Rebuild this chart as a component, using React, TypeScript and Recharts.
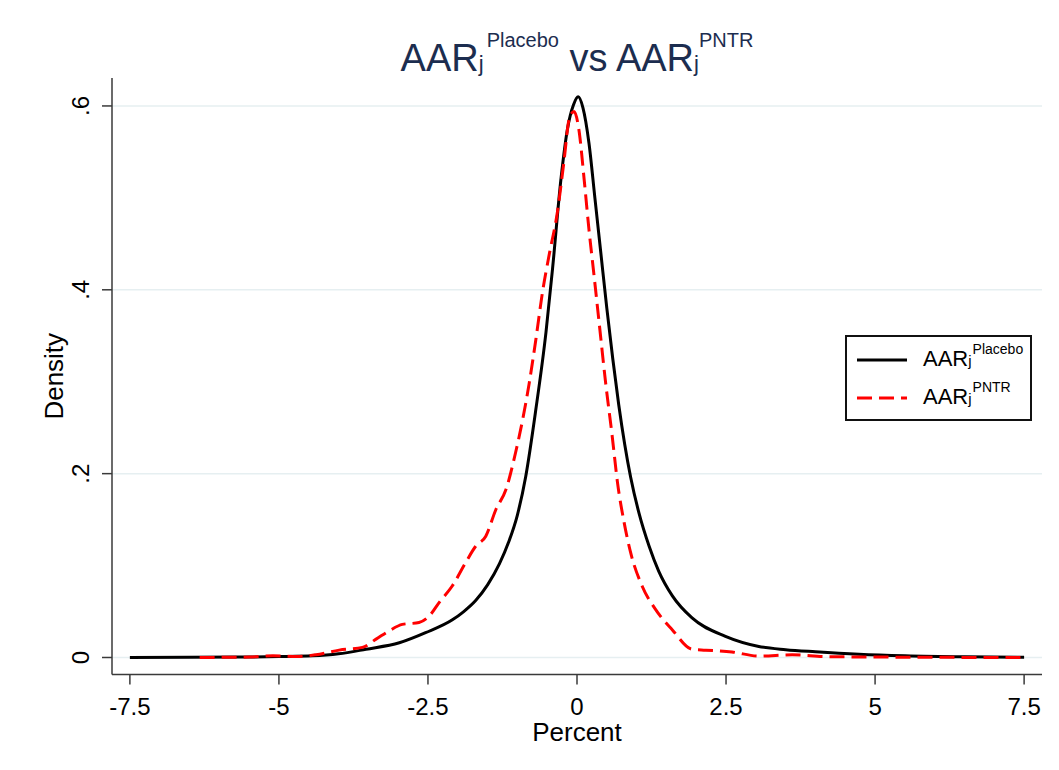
import { LineChart, Line, XAxis, YAxis, ReferenceLine, Legend } from 'recharts';

// kernel density estimates (x in percent, y = density)
const placeboX = [-7.5, -6.5, -5.5, -5.0, -4.44, -4.0, -3.54, -2.98, -2.54, -2.09, -1.9, -1.7, -1.5, -1.3, -1.15, -1.0, -0.86, -0.69, -0.52, -0.41, -0.27, -0.16, -0.06, 0.02, 0.1, 0.2, 0.3, 0.4, 0.5, 0.6, 0.7, 0.8, 0.9, 1.04, 1.21, 1.37, 1.6, 1.93, 2.49, 3.05, 3.5, 4.0, 4.73, 5.5, 6.5, 7.5];
const placeboY = [0, 0.0002, 0.0005, 0.001, 0.0018, 0.004, 0.009, 0.016, 0.027, 0.041, 0.05, 0.062, 0.079, 0.102, 0.125, 0.155, 0.197, 0.27, 0.354, 0.423, 0.52, 0.575, 0.601, 0.61, 0.598, 0.56, 0.5, 0.44, 0.38, 0.325, 0.275, 0.232, 0.196, 0.157, 0.121, 0.094, 0.067, 0.043, 0.023, 0.012, 0.0085, 0.0062, 0.0035, 0.0018, 0.0007, 0.0003];

const pntrX = [-6.33, -5.5, -5.1, -4.7, -4.38, -3.99, -3.6, -3.37, -3.15, -2.93, -2.65, -2.48, -2.31, -2.09, -1.87, -1.7, -1.53, -1.36, -1.19, -1.03, -0.92, -0.8, -0.69, -0.58, -0.47, -0.33, -0.22, -0.13, -0.05, 0.03, 0.12, 0.2, 0.28, 0.37, 0.48, 0.59, 0.68, 0.79, 0.9, 1.09, 1.32, 1.6, 1.93, 2.16, 2.6, 3.05, 3.61, 4.17, 5.0, 6.0, 7.5];
const pntrY = [0, 0.0005, 0.002, 0.001, 0.003, 0.008, 0.011, 0.02, 0.029, 0.036, 0.038, 0.045, 0.06, 0.078, 0.103, 0.121, 0.132, 0.161, 0.183, 0.223, 0.256, 0.299, 0.346, 0.397, 0.437, 0.484, 0.539, 0.586, 0.594, 0.575, 0.52, 0.466, 0.419, 0.365, 0.299, 0.241, 0.19, 0.147, 0.114, 0.078, 0.052, 0.03, 0.009, 0.008, 0.006, 0.0015, 0.003, 0.001, 0.0005, 0.0002, 0];

const xTicks = [-7.5, -5, -2.5, 0, 2.5, 5, 7.5];
const xTickLabels = ['-7.5', '-5', '-2.5', '0', '2.5', '5', '7.5'];
const yTicks = [0, 0.2, 0.4, 0.6];
const yTickLabels = ['0', '.2', '.4', '.6'];

const placeboData = placeboX.map((x, i) => ({ x, y: placeboY[i] }));
const pntrData = pntrX.map((x, i) => ({ x, y: pntrY[i] }));

const font = '"Liberation Sans", Arial, sans-serif';
const axisColor = '#3a3a3a';
const navy = '#1c2d4f';

const legendItems = [
  { sup: 'Placebo', color: '#000000', dash: undefined as string | undefined },
  { sup: 'PNTR', color: '#ff0000', dash: '15 7' },
];

function XTick(props: any) {
  const { x, y, payload } = props;
  const i = xTicks.indexOf(payload.value);
  return (
    <text x={x} y={y + 28} textAnchor="middle" fontSize={24} fontFamily={font} fill="#000">
      {xTickLabels[i]}
    </text>
  );
}

function YTick(props: any) {
  const { x, y, payload } = props;
  const i = yTicks.indexOf(payload.value);
  const bx = x - 11;
  return (
    <text x={bx} y={y} transform={`rotate(-90 ${bx} ${y})`} textAnchor="middle" fontSize={24} fontFamily={font} fill="#000">
      {yTickLabels[i]}
    </text>
  );
}

function Title() {
  return (
    <div
      style={{
        position: 'absolute',
        left: 577,
        top: 39,
        transform: 'translateX(-50%)',
        fontFamily: font,
        fontSize: 38,
        lineHeight: '38px',
        color: navy,
        whiteSpace: 'nowrap',
      }}
    >
      AAR<span style={{ fontSize: 22 }}>j</span>
      <span style={{ fontSize: 20, position: 'relative', top: -24, marginLeft: 3 }}>Placebo</span> vs AAR
      <span style={{ fontSize: 22 }}>j</span>
      <span style={{ fontSize: 20, position: 'relative', top: -24 }}>PNTR</span>
    </div>
  );
}

function LegendBox() {
  return (
    <div
      style={{
        position: 'relative',
        width: 187,
        height: 86,
        border: '2px solid #111',
        boxSizing: 'border-box',
        background: '#fff',
        fontFamily: font,
        color: '#000',
      }}
    >
      {legendItems.map((item, i) => (
        <div key={item.sup}>
          <svg style={{ position: 'absolute', left: 9, top: 20 + i * 37.5 }} width={52} height={6}>
            <line x1={1} x2={51} y1={3} y2={3} stroke={item.color} strokeWidth={3} strokeDasharray={item.dash} />
          </svg>
          <div
            style={{
              position: 'absolute',
              left: 76,
              top: 11 + i * 38,
              fontSize: 22,
              lineHeight: '22px',
              whiteSpace: 'nowrap',
            }}
          >
            AAR<span style={{ fontSize: 15 }}>j</span>
            <span style={{ fontSize: 14, position: 'relative', top: -12, marginLeft: 1 }}>{item.sup}</span>
          </div>
        </div>
      ))}
    </div>
  );
}

export default function App() {
  return (
    <div style={{ position: 'absolute', left: 0, top: 0, width: 1059, height: 770, background: '#fff' }}>
      <LineChart width={1059} height={770} margin={{ top: 78, right: 17, bottom: 35.5, left: 0 }}>
        <XAxis
          dataKey="x"
          type="number"
          domain={[-7.8, 7.8]}
          allowDataOverflow
          ticks={xTicks}
          interval={0}
          height={60}
          tickSize={10}
          stroke={axisColor}
          strokeWidth={1.5}
          tick={<XTick />}
          label={(p: any) => {
            const vb = p.viewBox;
            return (
              <text x={vb.x + vb.width / 2} y={vb.y + 66.5} textAnchor="middle" fontSize={26} fontFamily={font} fill="#000">
                Percent
              </text>
            );
          }}
        />
        <YAxis
          type="number"
          domain={[-0.0185, 0.6304]}
          allowDataOverflow
          ticks={yTicks}
          interval={0}
          width={112}
          tickSize={10}
          stroke={axisColor}
          strokeWidth={1.5}
          tick={<YTick />}
          label={(p: any) => {
            const vb = p.viewBox;
            const cx = vb.x + 63;
            const cy = vb.y + vb.height / 2;
            return (
              <text x={cx} y={cy} transform={`rotate(-90 ${cx} ${cy})`} textAnchor="middle" fontSize={26} fontFamily={font} fill="#000">
                Density
              </text>
            );
          }}
        />
        {yTicks.map((t) => (
          <ReferenceLine key={t} y={t} stroke="#e6eff1" strokeWidth={1.5} />
        ))}
        <Legend
          layout="vertical"
          align="center"
          verticalAlign="middle"
          content={() => <LegendBox />}
          wrapperStyle={{ position: 'absolute', left: 845, top: 335, width: 187, height: 86 }}
        />
        <Line
          data={placeboData}
          dataKey="y"
          type="monotone"
          stroke="#000000"
          strokeWidth={3}
          dot={false}
          activeDot={false}
          isAnimationActive={false}
        />
        <Line
          data={pntrData}
          dataKey="y"
          type="monotone"
          stroke="#ff0000"
          strokeWidth={3}
          strokeDasharray="15 7"
          dot={false}
          activeDot={false}
          isAnimationActive={false}
        />
      </LineChart>
      <Title />
    </div>
  );
}
